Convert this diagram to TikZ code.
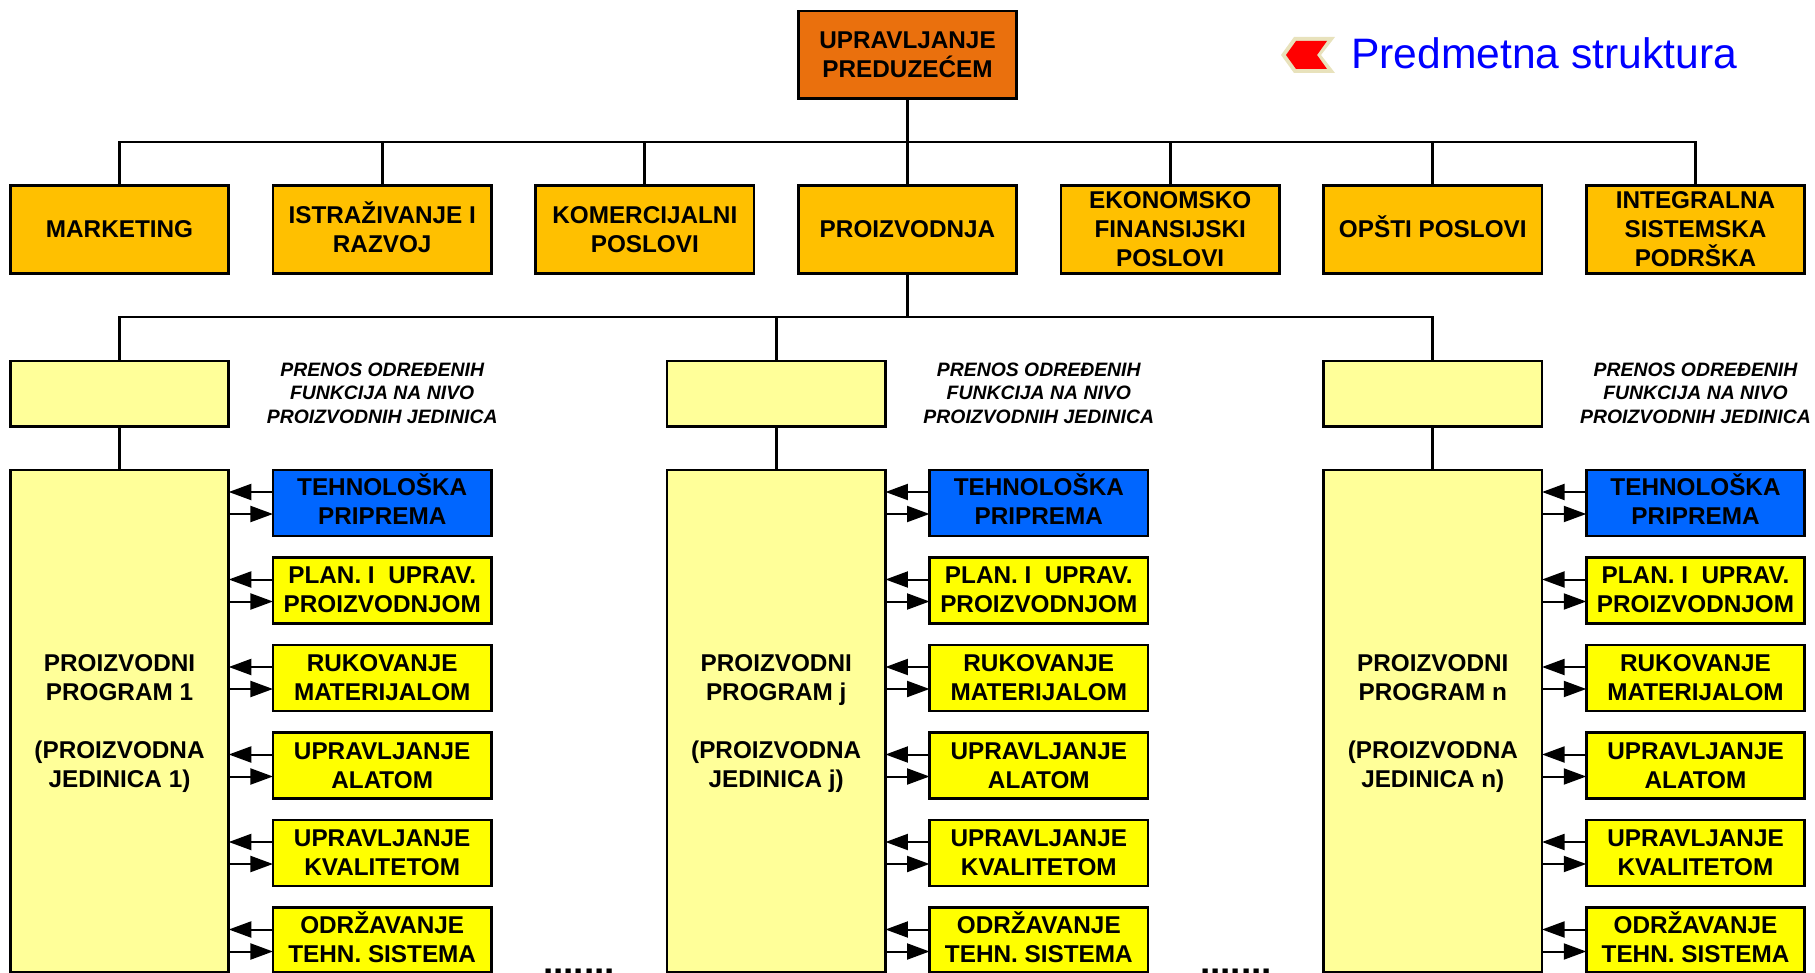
\documentclass[tikz,border=0pt]{standalone}
\usepackage{fontspec}
\setmainfont{Liberation Sans}
\usetikzlibrary{arrows.meta}
\definecolor{topor}{HTML}{EA700D}
\definecolor{amber}{HTML}{FFC000}
\definecolor{pale}{HTML}{FFFF99}
\definecolor{blu}{HTML}{0066FF}
\definecolor{yel}{HTML}{FFFF00}
\definecolor{beige}{HTML}{E8E2BC}
\newcommand{\liftline}{\rule[-2.5pt]{0pt}{0pt}}
\tikzset{
 x=1pt,y=-1pt,
 boxbase/.style={draw=black,line width=2.8pt,inner sep=0pt,outer sep=0pt,align=center,text=black,
   font=\fontsize{24.3}{29}\selectfont\bfseries,minimum width=218.5pt},
 topbox/.style={boxbase,fill=topor,minimum height=87.5pt},
 deptbox/.style={boxbase,fill=amber,minimum height=87.5pt},
 unitbox/.style={boxbase,fill=pale,minimum height=65.5pt},
 progbox/.style={boxbase,fill=pale,minimum height=502pt},
 funcbox/.style={boxbase,fill=yel,minimum height=66pt},
 lastbox/.style={boxbase,fill=yel,minimum height=65pt},
 techbox/.style={boxbase,fill=blu,minimum height=66pt},
 note/.style={inner sep=0pt,align=center,font=\fontsize{19.4}{23.5}\selectfont\bfseries\itshape},
 conn/.style={line width=2.7pt,draw=black},
 flow/.style={line width=2pt,draw=black,-{Triangle[length=22.5pt,width=16pt]}},
 dots/.style={inner sep=0pt,font=\fontsize{37}{40}\selectfont\bfseries},
}
\begin{document}
\begin{tikzpicture}
\useasboundingbox (0,0) rectangle (1815,973);
\clip (0,0) rectangle (1815,973);
\node[topbox] (top) at (907.5,54.7) {UPRAVLJANJE\\PREDUZEĆEM};
\coordinate (busa) at (907.5,142);
\coordinate (busb) at (907.5,317);
\node[deptbox] (d1) at (119.5,229.5) {MARKETING};
\node[deptbox] (d2) at (382.2,229.5) {ISTRA\smash{Ž}IVANJE I\\RAZVOJ};
\node[deptbox] (d3) at (644.8,229.5) {KOMERCIJALNI\\POSLOVI};
\node[deptbox] (d4) at (907.5,229.5) {PROIZVODNJA};
\node[deptbox] (d5) at (1170.2,229.5) {EKONOMSKO\\FINANSIJSKI\\POSLOVI};
\node[deptbox] (d6) at (1432.8,229.5) {OP\smash{Š}TI POSLOVI};
\node[deptbox] (d7) at (1695.5,229.5) {INTEGRALNA\\SISTEMSKA\\PODRŠKA};
\draw[conn] (top.south) -- (d4.north);
\foreach \d in {d1,d2,d3,d5,d6,d7} \draw[conn] (busa) -| (\d.north);
\draw[conn] (d4.south) -- (busb);
\foreach \c/\xa/\xb/\lab in {a/119.5/382.2/1,b/776.2/1038.8/j,c/1432.8/1695.5/n}{
  \node[unitbox] (u\c) at (\xa,393.7) {};
  \node[progbox] (p\c) at (\xa,721) {\rule{0pt}{22pt}PROIZVODNI\\PROGRAM \lab\\[29pt](PROIZVODNA\\JEDINICA \lab)};
  \node[note] (n\c) at (\xb,393) {PRENOS ODREĐENIH\\FUNKCIJA NA NIVO\\PROIZVODNIH JEDINICA};
  \draw[conn] (busb) -| (u\c.north);
  \draw[conn] (u\c.south) -- (p\c.north);
  \foreach \k/\y/\sty/\txt in {
     1/503/techbox/{TEHNOLO\smash{Š}KA\\PRIPREMA\liftline},
     2/590.5/funcbox/{PLAN. I\ \ UPRAV.\\PROIZVODNJOM\liftline},
     3/678/funcbox/{RUKOVANJE\\MATERIJALOM},
     4/765.5/funcbox/{UPRAVLJANJE\\ALATOM},
     5/853/funcbox/{UPRAVLJANJE\\KVALITETOM},
     6/940/lastbox/{ODR\smash{Ž}AVANJE\\TEHN. SISTEMA}}{
    \node[\sty] (s\c\k) at (\xb,\y) {\txt};
    \draw[flow] ([yshift=-22pt]s\c\k.north west) -- ([yshift=-22pt]s\c\k.north west -| p\c.east);
    \draw[flow] ([yshift=-44pt]s\c\k.north west -| p\c.east) -- ([yshift=-44pt]s\c\k.north west);
  }
}
\node[dots,anchor=base] (gapa) at (579,974.5) {.......};
\node[dots,anchor=base] (gapb) at (1236,974.5) {.......};
\fill[beige] (1281,55) -- (1294,37) -- (1335,37) -- (1321,55) -- (1335,73) -- (1294,73) -- cycle;
\fill[red] (1286,55) -- (1296,41) -- (1327,41) -- (1317,55) -- (1327,69) -- (1296,69) -- cycle;
\node[inner sep=0pt,anchor=base west,text=blue,font=\fontsize{42.6}{46}\selectfont] (legend) at (1351,68.5) {Predmetna struktura};
\end{tikzpicture}
\end{document}
